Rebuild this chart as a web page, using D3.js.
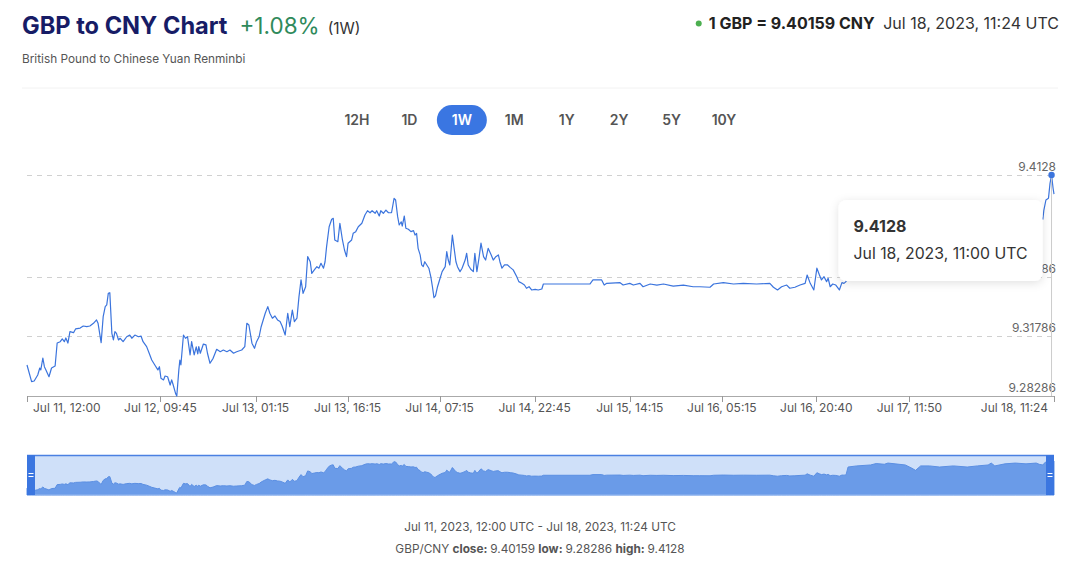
<!DOCTYPE html>
<html>
<head>
<meta charset="utf-8">
<script src="https://cdn.jsdelivr.net/npm/d3@7"></script>
<style>
  html, body { margin: 0; padding: 0; background: #ffffff; }
  svg { display: block; font-family: Inter, "Noto Sans", sans-serif; }
</style>
</head>
<body>
<svg id="chart" width="1080" height="573"></svg>
<script>
// ---------- DATA ----------
const title = "GBP to CNY Chart";
const changeText = "+1.08%";
const periodText = "(1W)";
const subtitle = "British Pound to Chinese Yuan Renminbi";
const quoteText = "1 GBP = 9.40159 CNY";
const quoteTime = "Jul 18, 2023, 11:24 UTC";
const rangeButtons = ["12H", "1D", "1W", "1M", "1Y", "2Y", "5Y", "10Y"];
const activeButton = "1W";

const yTicks = [9.28286, 9.31786, 9.35286, 9.4128];
const yDomain = [9.28286, 9.4128];

const xTickTimes = ["07-11 12:00", "07-12 09:45", "07-13 01:15", "07-13 16:15", "07-14 07:15",
  "07-14 22:45", "07-15 14:15", "07-16 05:15", "07-16 20:40", "07-17 11:50", "07-18 11:24"];
const xTickLabels = ["Jul 11, 12:00", "Jul 12, 09:45", "Jul 13, 01:15", "Jul 13, 16:15", "Jul 14, 07:15",
  "Jul 14, 22:45", "Jul 15, 14:15", "Jul 16, 05:15", "Jul 16, 20:40", "Jul 17, 11:50", "Jul 18, 11:24"];

const times = [
"07-11 12:00","07-11 12:45","07-11 13:10","07-11 13:45","07-11 14:05","07-11 14:15","07-11 14:35","07-11 14:50","07-11 15:05","07-11 15:35",
"07-11 16:00","07-11 16:35","07-11 16:55","07-11 17:25","07-11 17:45","07-11 18:05","07-11 18:20","07-11 18:40","07-11 19:00","07-11 19:35",
"07-11 19:55","07-11 20:40","07-11 21:10","07-11 21:45","07-11 22:15","07-11 22:50","07-11 23:20","07-11 23:35","07-12 00:05","07-12 00:25",
"07-12 00:45","07-12 01:00","07-12 01:15","07-12 01:30","07-12 01:50","07-12 02:05","07-12 02:20","07-12 02:35","07-12 02:55","07-12 03:10",
"07-12 03:40","07-12 04:15","07-12 04:45","07-12 05:05","07-12 05:35","07-12 06:10","07-12 06:35","07-12 06:55","07-12 07:30","07-12 07:55",
"07-12 08:20","07-12 08:50","07-12 09:20","07-12 09:35","07-12 09:50","07-12 10:15","07-12 10:30","07-12 10:55","07-12 11:20","07-12 11:35",
"07-12 11:50","07-12 12:15","07-12 12:25","07-12 12:45","07-12 12:55","07-12 13:05","07-12 13:30","07-12 13:50","07-12 14:10","07-12 14:35",
"07-12 14:50","07-12 15:15","07-12 15:35","07-12 15:50","07-12 16:00","07-12 16:15","07-12 16:45","07-12 17:10","07-12 17:25","07-12 17:50",
"07-12 18:20","07-12 18:55","07-12 19:30","07-12 20:00","07-12 20:35","07-12 21:05","07-12 21:40","07-12 22:10","07-12 23:00","07-12 23:30",
"07-12 23:50","07-13 00:10","07-13 00:40","07-13 01:05","07-13 01:25","07-13 01:50","07-13 02:10","07-13 02:50","07-13 03:15","07-13 03:35",
"07-13 04:00","07-13 04:25","07-13 04:50","07-13 05:15","07-13 05:35","07-13 06:05","07-13 06:30","07-13 06:50","07-13 07:15","07-13 07:35",
"07-13 08:00","07-13 08:20","07-13 08:40","07-13 09:00","07-13 09:25","07-13 09:45","07-13 10:10","07-13 10:25","07-13 10:50","07-13 11:15",
"07-13 11:35","07-13 11:55","07-13 12:20","07-13 12:35","07-13 12:50","07-13 13:15","07-13 13:40","07-13 13:55","07-13 14:10","07-13 14:40",
"07-13 15:00","07-13 15:25","07-13 15:45","07-13 16:05","07-13 16:20","07-13 16:55","07-13 17:10","07-13 17:35","07-13 18:00","07-13 18:35",
"07-13 19:05","07-13 19:30","07-13 19:55","07-13 20:15","07-13 20:45","07-13 21:00","07-13 21:25","07-13 21:40","07-13 22:05","07-13 22:30",
"07-13 22:55","07-13 23:25","07-13 23:50","07-14 00:05","07-14 00:25","07-14 00:40","07-14 01:00","07-14 01:10","07-14 01:30","07-14 01:45",
"07-14 02:10","07-14 02:35","07-14 03:00","07-14 03:15","07-14 03:30","07-14 03:45","07-14 04:05","07-14 04:20","07-14 04:35","07-14 04:50",
"07-14 05:10","07-14 05:30","07-14 05:50","07-14 06:05","07-14 06:20","07-14 06:35","07-14 06:55","07-14 07:20","07-14 07:40","07-14 08:10",
"07-14 08:25","07-14 08:40","07-14 08:55","07-14 09:20","07-14 09:35","07-14 09:55","07-14 10:10","07-14 10:35","07-14 10:55","07-14 11:25",
"07-14 11:40","07-14 11:55","07-14 12:20","07-14 12:45","07-14 13:00","07-14 13:20","07-14 13:40","07-14 14:00","07-14 14:25","07-14 14:45",
"07-14 15:10","07-14 15:40","07-14 16:00","07-14 16:25","07-14 16:50","07-14 17:05","07-14 17:25","07-14 17:50","07-14 18:20","07-14 18:45",
"07-14 19:15","07-14 19:50","07-14 20:10","07-14 20:40","07-14 21:05","07-14 21:25","07-14 21:50","07-14 22:15","07-14 22:50","07-14 23:20",
"07-14 23:55","07-15 00:10","07-15 07:45","07-15 08:15","07-15 09:40","07-15 10:05","07-15 10:30","07-15 12:40","07-15 13:10","07-15 14:15",
"07-15 14:50","07-15 15:55","07-15 16:25","07-15 17:35","07-15 18:40","07-15 19:45","07-15 21:20","07-15 23:00","07-16 00:35","07-16 01:40",
"07-16 03:20","07-16 03:55","07-16 05:30","07-16 07:10","07-16 08:45","07-16 10:55","07-16 13:05","07-16 13:40","07-16 14:20","07-16 15:00",
"07-16 15:50","07-16 16:20","07-16 17:10","07-16 18:00","07-16 18:50","07-16 19:10","07-16 19:40","07-16 20:15","07-16 20:45","07-16 21:10",
"07-16 21:30","07-16 21:55","07-16 22:20","07-16 22:35","07-16 22:55","07-16 23:20","07-16 23:50","07-17 00:25","07-17 00:50","07-17 01:10",
"07-17 01:30","07-17 01:50","07-17 03:15","07-17 05:30","07-17 06:25","07-17 07:45","07-17 08:20","07-17 09:30","07-17 11:10","07-17 12:15",
"07-17 12:50","07-17 13:40","07-17 15:05","07-17 16:45","07-17 19:00","07-17 21:15","07-17 22:55","07-18 00:40","07-18 01:10","07-18 01:45",
"07-18 03:25","07-18 05:05","07-18 06:50","07-18 08:30","07-18 09:00","07-18 09:35","07-18 09:45","07-18 10:05","07-18 10:30","07-18 10:45",
"07-18 11:00","07-18 11:15","07-18 11:24"];

const rates = [
9.3011,9.2913,9.2917,9.2952,9.2993,9.2982,9.3052,9.3001,9.2982,9.2942,
9.2993,9.3005,9.3140,9.3148,9.3164,9.3148,9.3170,9.3140,9.3207,9.3201,
9.3223,9.3228,9.3240,9.3236,9.3240,9.3256,9.3276,9.3256,9.3142,9.3295,
9.3354,9.3364,9.3432,9.3436,9.3197,9.3158,9.3207,9.3197,9.3158,9.3168,
9.3148,9.3177,9.3187,9.3168,9.3187,9.3177,9.3181,9.3148,9.3119,9.3080,
9.3040,9.3011,9.2982,9.3001,9.2933,9.2923,9.2946,9.2942,9.2893,9.2923,
9.2893,9.2840,9.28286,9.2982,9.3040,9.3011,9.3187,9.3168,9.3177,9.3070,
9.3148,9.3070,9.3117,9.3076,9.3119,9.3080,9.3134,9.3129,9.3080,9.3021,
9.3050,9.3103,9.3089,9.3099,9.3089,9.3099,9.3080,9.3089,9.3099,9.3119,
9.3256,9.3246,9.3139,9.3109,9.3148,9.3177,9.3236,9.3315,9.3354,9.3315,
9.3286,9.3299,9.3276,9.3266,9.3240,9.3187,9.3315,9.3236,9.3334,9.3266,
9.3286,9.3413,9.3511,9.3432,9.3471,9.3648,9.3618,9.3550,9.3570,9.3589,
9.3580,9.3609,9.3580,9.3618,9.3707,9.3824,9.3868,9.3873,9.3746,9.3736,
9.3844,9.3746,9.3687,9.3648,9.3727,9.3746,9.3785,9.3795,9.3824,9.3844,
9.3893,9.3918,9.3906,9.3918,9.3903,9.3918,9.3887,9.3918,9.3903,9.3922,
9.3906,9.3906,9.3991,9.3981,9.3883,9.3834,9.3853,9.3828,9.3887,9.3815,
9.3809,9.3795,9.3801,9.3775,9.3785,9.3697,9.3658,9.3599,9.3589,9.3618,
9.3599,9.3580,9.3527,9.3471,9.3407,9.3417,9.3471,9.3521,9.3560,9.3589,
9.3677,9.3628,9.3599,9.3775,9.3707,9.3618,9.3589,9.3560,9.3580,9.3628,
9.3668,9.3599,9.3574,9.3560,9.3668,9.3560,9.3638,9.3727,9.3648,9.3628,
9.3697,9.3658,9.3628,9.3648,9.3658,9.3618,9.3580,9.3599,9.3599,9.3585,
9.3570,9.3530,9.3501,9.3491,9.3481,9.3462,9.3471,9.3452,9.3456,9.3452,
9.3458,9.3487,9.3487,9.3511,9.3511,9.3481,9.3491,9.3495,9.3481,9.3491,
9.3481,9.3491,9.3471,9.3487,9.3481,9.3487,9.3475,9.3481,9.3471,9.3471,
9.3468,9.3487,9.3495,9.3487,9.3491,9.3487,9.3491,9.3468,9.3452,9.3471,
9.3481,9.3462,9.3468,9.3481,9.3491,9.3540,9.3491,9.3452,9.3580,9.3540,
9.3511,9.3530,9.3501,9.3521,9.3471,9.3487,9.3481,9.3452,9.3495,9.3491,
9.3501,9.3793,9.3834,9.3869,9.3922,9.3895,9.3940,9.3911,9.3869,9.3746,
9.3669,9.3834,9.3834,9.3793,9.3834,9.3793,9.3834,9.3869,9.3940,9.3834,
9.3911,9.3940,9.3911,9.3940,9.3893,9.3868,9.3922,9.3981,9.3991,9.4079,
9.4128,9.4050,9.40159];

const hoverTime = "07-18 11:00";
const hoverValue = 9.4128;
const hoverLabel = "Jul 18, 2023, 11:00 UTC";
const footerRange = "Jul 11, 2023, 12:00 UTC - Jul 18, 2023, 11:24 UTC";
const footerStats = [["GBP/CNY ", false], ["close: ", true], ["9.40159 ", false], ["low: ", true], ["9.28286 ", false], ["high: ", true], ["9.4128", false]];

// ---------- SETUP ----------
const parse = d3.utcParse("%Y-%m-%d %H:%M");
const toDate = s => parse("2023-" + s);
const data = times.map((t, i) => ({ t: toDate(t), v: rates[i] }));

const svg = d3.select("#chart");
const W = 1080;

const plot = { left: 27, right: 1054, top: 175, bottom: 396 };
const x = d3.scaleUtc().domain([toDate(times[0]), toDate(times[times.length - 1])]).range([plot.left, plot.right]);
const y = d3.scaleLinear().domain(yDomain).range([plot.bottom, plot.top]);

const defs = svg.append("defs");
const f = defs.append("filter").attr("id", "shadow").attr("x", "-20%").attr("y", "-30%").attr("width", "140%").attr("height", "170%");
f.append("feDropShadow").attr("dx", 0).attr("dy", 2).attr("stdDeviation", 5).attr("flood-color", "#000").attr("flood-opacity", 0.12);

// ---------- HEADER ----------
const head = svg.append("text").attr("x", 22).attr("y", 34);
head.append("tspan").text(title).attr("font-size", 23.6).attr("font-weight", 700).attr("fill", "#171c66");
head.append("tspan").text(changeText).attr("dx", 12).attr("font-size", 22.5).attr("fill", "#2f8a5b");
head.append("tspan").text(periodText).attr("dx", 8).attr("font-size", 15.5).attr("fill", "#333");

svg.append("text").attr("x", 22).attr("y", 63).attr("font-size", 11.8).attr("fill", "#555").text(subtitle);

const qt = svg.append("text").attr("x", 1059).attr("y", 29).attr("text-anchor", "end").attr("font-size", 16).attr("fill", "#222");
qt.append("tspan").text(quoteText).attr("font-weight", 700);
qt.append("tspan").text(" " + quoteTime).attr("dx", 4).attr("fill", "#333");
const qtBox = qt.node().getBBox();
svg.append("circle").attr("cx", qtBox.x - 10).attr("cy", 23.5).attr("r", 3).attr("fill", "#4caf50");

svg.append("line").attr("x1", 22).attr("x2", 1058).attr("y1", 88).attr("y2", 88).attr("stroke", "#f2f2f2");

// ---------- RANGE BUTTONS ----------
const bx = d3.scalePoint().domain(rangeButtons).range([357, 724]);
const btn = svg.append("g").selectAll("g").data(rangeButtons).join("g")
  .attr("transform", d => `translate(${bx(d)},120)`);
btn.filter(d => d === activeButton).append("rect")
  .attr("x", -25).attr("y", -15).attr("width", 50).attr("height", 30).attr("rx", 15).attr("fill", "#3a76e2");
btn.append("text").attr("text-anchor", "middle").attr("dy", "0.35em").attr("font-size", 14).attr("font-weight", 600)
  .attr("fill", d => d === activeButton ? "#fff" : "#555").text(d => d);

// ---------- GRID & Y LABELS ----------
svg.append("g").selectAll("line").data(yTicks.slice(1)).join("line")
  .attr("x1", plot.left).attr("x2", plot.right).attr("y1", d => Math.round(y(d)) + 0.5).attr("y2", d => Math.round(y(d)) + 0.5)
  .attr("stroke", "#d0d0d0").attr("stroke-dasharray", "5,5");
svg.append("g").selectAll("text").data(yTicks).join("text")
  .attr("x", 1056).attr("y", d => y(d) - 4).attr("text-anchor", "end").attr("font-size", 12).attr("fill", "#666")
  .text(d => d.toString());

// ---------- X AXIS ----------
svg.append("line").attr("x1", plot.left).attr("x2", plot.right + 1).attr("y1", plot.bottom + 0.5).attr("y2", plot.bottom + 0.5).attr("stroke", "#aaa");
const xt = xTickTimes.map(toDate);
svg.append("g").selectAll("line").data(xt).join("line")
  .attr("x1", d => Math.round(x(d)) + 0.5).attr("x2", d => Math.round(x(d)) + 0.5).attr("y1", plot.bottom).attr("y2", plot.bottom + 6)
  .attr("stroke", "#999");
svg.append("g").selectAll("text").data(xt).join("text")
  .attr("x", (d, i) => i === 0 ? x(d) + 6 : (i === xt.length - 1 ? x(d) - 6 : x(d)))
  .attr("y", 412)
  .attr("text-anchor", (d, i) => i === 0 ? "start" : (i === xt.length - 1 ? "end" : "middle"))
  .attr("font-size", 12).attr("fill", "#555")
  .text((d, i) => xTickLabels[i]);

// ---------- LINE ----------
const line = d3.line().x(d => x(d.t)).y(d => y(d.v));
svg.append("path").datum(data).attr("d", line).attr("fill", "none").attr("stroke", "#3b74dd").attr("stroke-width", 1.2)
  .attr("stroke-linejoin", "round");

// ---------- HOVER ----------
const hx = x(toDate(hoverTime)), hy = y(hoverValue);
svg.append("line").attr("x1", hx).attr("x2", hx).attr("y1", hy).attr("y2", plot.bottom).attr("stroke", "#ccc").attr("stroke-width", 1);
svg.append("circle").attr("cx", hx).attr("cy", hy).attr("r", 3.2).attr("fill", "#3b74dd");

const tip = svg.append("g").attr("transform", `translate(${hx - 213},${hy + 25})`);
tip.append("rect").attr("width", 204).attr("height", 81).attr("rx", 8).attr("fill", "#fff").attr("filter", "url(#shadow)");
tip.append("text").attr("x", 15).attr("y", 32).attr("font-size", 16).attr("font-weight", 700).attr("fill", "#333").text(hoverValue.toString());
tip.append("text").attr("x", 15).attr("y", 59).attr("font-size", 15.8).attr("fill", "#333").text(hoverLabel);

// ---------- NAVIGATOR ----------
const nav = { top: 455, bottom: 495 };
const yn = d3.scaleLinear().domain(yDomain).range([493, 458]);
svg.append("rect").attr("x", plot.left).attr("y", nav.top).attr("width", plot.right - plot.left).attr("height", nav.bottom - nav.top)
  .attr("fill", "#cfe0f9");
const area = d3.area().x(d => x(d.t)).y0(nav.bottom).y1(d => yn(d.v));
svg.append("path").datum(data).attr("d", area).attr("fill", "#6a9be8").attr("stroke", "#5b8fe3").attr("stroke-width", 1);
svg.append("line").attr("x1", plot.left).attr("x2", plot.right).attr("y1", nav.top + 0.5).attr("y2", nav.top + 0.5).attr("stroke", "#4a80e2").attr("stroke-width", 1.5);
svg.append("line").attr("x1", plot.left).attr("x2", plot.right).attr("y1", nav.bottom).attr("y2", nav.bottom).attr("stroke", "#9dbdf0").attr("stroke-width", 1);
[plot.left, plot.right - 8].forEach(hxx => {
  svg.append("rect").attr("x", hxx).attr("y", nav.top).attr("width", 8).attr("height", nav.bottom - nav.top).attr("fill", "#3b76e0");
  [-1.5, 1.5].forEach(o => svg.append("line").attr("x1", hxx + 1.5).attr("x2", hxx + 6.5)
    .attr("y1", (nav.top + nav.bottom) / 2 + o).attr("y2", (nav.top + nav.bottom) / 2 + o).attr("stroke", "#fff").attr("stroke-width", 1));
});

// ---------- FOOTER ----------
svg.append("text").attr("x", W / 2).attr("y", 531).attr("text-anchor", "middle").attr("font-size", 11.8).attr("fill", "#555").text(footerRange);
const ft = svg.append("text").attr("x", W / 2).attr("y", 553).attr("text-anchor", "middle").attr("font-size", 11.8).attr("fill", "#555");
footerStats.forEach(([s, b]) => ft.append("tspan").text(s).attr("font-weight", b ? 700 : 400).attr("xml:space", "preserve"));
</script>
</body>
</html>
